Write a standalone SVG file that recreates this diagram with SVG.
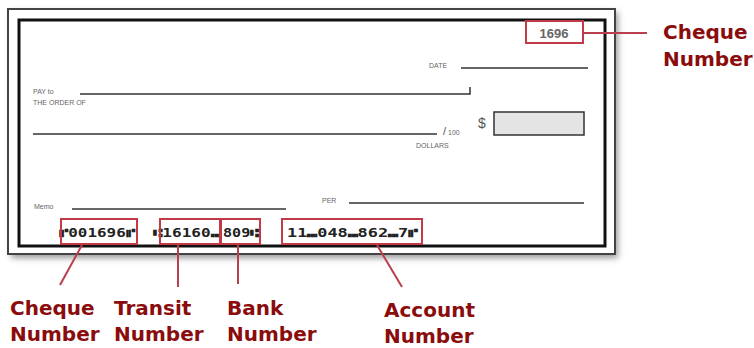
<svg xmlns="http://www.w3.org/2000/svg" width="754" height="348" viewBox="0 0 754 348">
<style>
.sm{font-family:"Liberation Sans",Arial,sans-serif;font-size:7px;fill:#666}
.lbl{font-family:"DejaVu Sans",Verdana,sans-serif;font-size:20px;font-weight:bold;fill:#8a0c0c}
.micr{font-family:"DejaVu Sans Mono","DejaVu Sans",monospace;font-size:12px;font-weight:bold;fill:#222}
.box{fill:none;stroke:#c23a48;stroke-width:2}
.con{stroke:#b8404e;stroke-width:2;fill:none}
.ln{stroke:#333;stroke-width:1.5}
</style>
<defs>
<filter id="sh" x="-5%" y="-10%" width="110%" height="130%"><feGaussianBlur stdDeviation="3"/></filter>
</defs>
<rect width="754" height="348" fill="#fff"/>
<g id="cheque">
<rect x="11" y="12" width="607" height="246" fill="#9a9a9a" filter="url(#sh)"/>
<rect x="8" y="9" width="607" height="245" fill="#fff" stroke="#444" stroke-width="2"/>
<rect x="19" y="20" width="586" height="226" fill="#fff" stroke="#111" stroke-width="3"/>
<text class="sm" x="429" y="68">DATE</text>
<line class="ln" x1="461" y1="68" x2="588" y2="68"/>
<text class="sm" x="33" y="94">PAY to</text>
<text class="sm" x="33" y="105">THE ORDER OF</text>
<polyline class="ln" fill="none" points="80,94 470,94 470,87"/>
<line class="ln" x1="33" y1="134" x2="437" y2="134"/>
<text x="443" y="135" font-family="Liberation Sans,Arial,sans-serif" font-size="11" fill="#555">/</text>
<text class="sm" x="448" y="135">100</text>
<text class="sm" x="416" y="148">DOLLARS</text>
<text x="478" y="128" font-family="Liberation Sans,Arial,sans-serif" font-size="14" fill="#555">$</text>
<rect x="494" y="112" width="90" height="23" fill="#e4e4e4" stroke="#333" stroke-width="1.5"/>
<text class="sm" x="34" y="209">Memo</text>
<line class="ln" x1="72" y1="209" x2="286" y2="209"/>
<text class="sm" x="322" y="203">PER</text>
<line class="ln" x1="349" y1="203" x2="584" y2="203"/>
<text x="554" y="38" text-anchor="middle" font-family="Liberation Sans,Arial,sans-serif" font-size="13" font-weight="bold" fill="#666">1696</text>
<text class="micr" x="59" y="237" textLength="76" lengthAdjust="spacingAndGlyphs">⑈001696⑈</text>
<text class="micr" x="153" y="237" textLength="67" lengthAdjust="spacingAndGlyphs">⑆16160⑉</text>
<text class="micr" x="223" y="237" textLength="36" lengthAdjust="spacingAndGlyphs">809⑆</text>
<text class="micr" x="287" y="237" textLength="131" lengthAdjust="spacingAndGlyphs">11⑉048⑉862⑉7⑈</text>
</g>
<g id="box-cheque-top"><rect class="box" x="526" y="21" width="57" height="22"/></g>
<g id="box-cheque"><rect class="box" x="61" y="219" width="76" height="25"/></g>
<g id="box-transit"><rect class="box" x="160" y="219" width="60" height="25"/></g>
<g id="box-bank"><rect class="box" x="221" y="219" width="39" height="25"/></g>
<g id="box-account"><rect class="box" x="282" y="219" width="140" height="25"/></g>
<g id="connectors">
<line class="con" x1="583" y1="33" x2="647" y2="33"/>
<line class="con" x1="82" y1="245" x2="60" y2="285"/>
<line class="con" x1="178" y1="245" x2="178" y2="287"/>
<line class="con" x1="238" y1="245" x2="238" y2="284"/>
<line class="con" x1="377" y1="245" x2="402" y2="287"/>
</g>
<g id="label-cheque-top"><text class="lbl" x="663" y="39">Cheque</text><text class="lbl" x="663" y="66">Number</text></g>
<g id="label-cheque"><text class="lbl" x="10" y="315">Cheque</text><text class="lbl" x="10" y="341">Number</text></g>
<g id="label-transit"><text class="lbl" x="114" y="315">Transit</text><text class="lbl" x="114" y="341">Number</text></g>
<g id="label-bank"><text class="lbl" x="227" y="315">Bank</text><text class="lbl" x="227" y="341">Number</text></g>
<g id="label-account"><text class="lbl" x="384" y="317">Account</text><text class="lbl" x="384" y="343">Number</text></g>
</svg>
